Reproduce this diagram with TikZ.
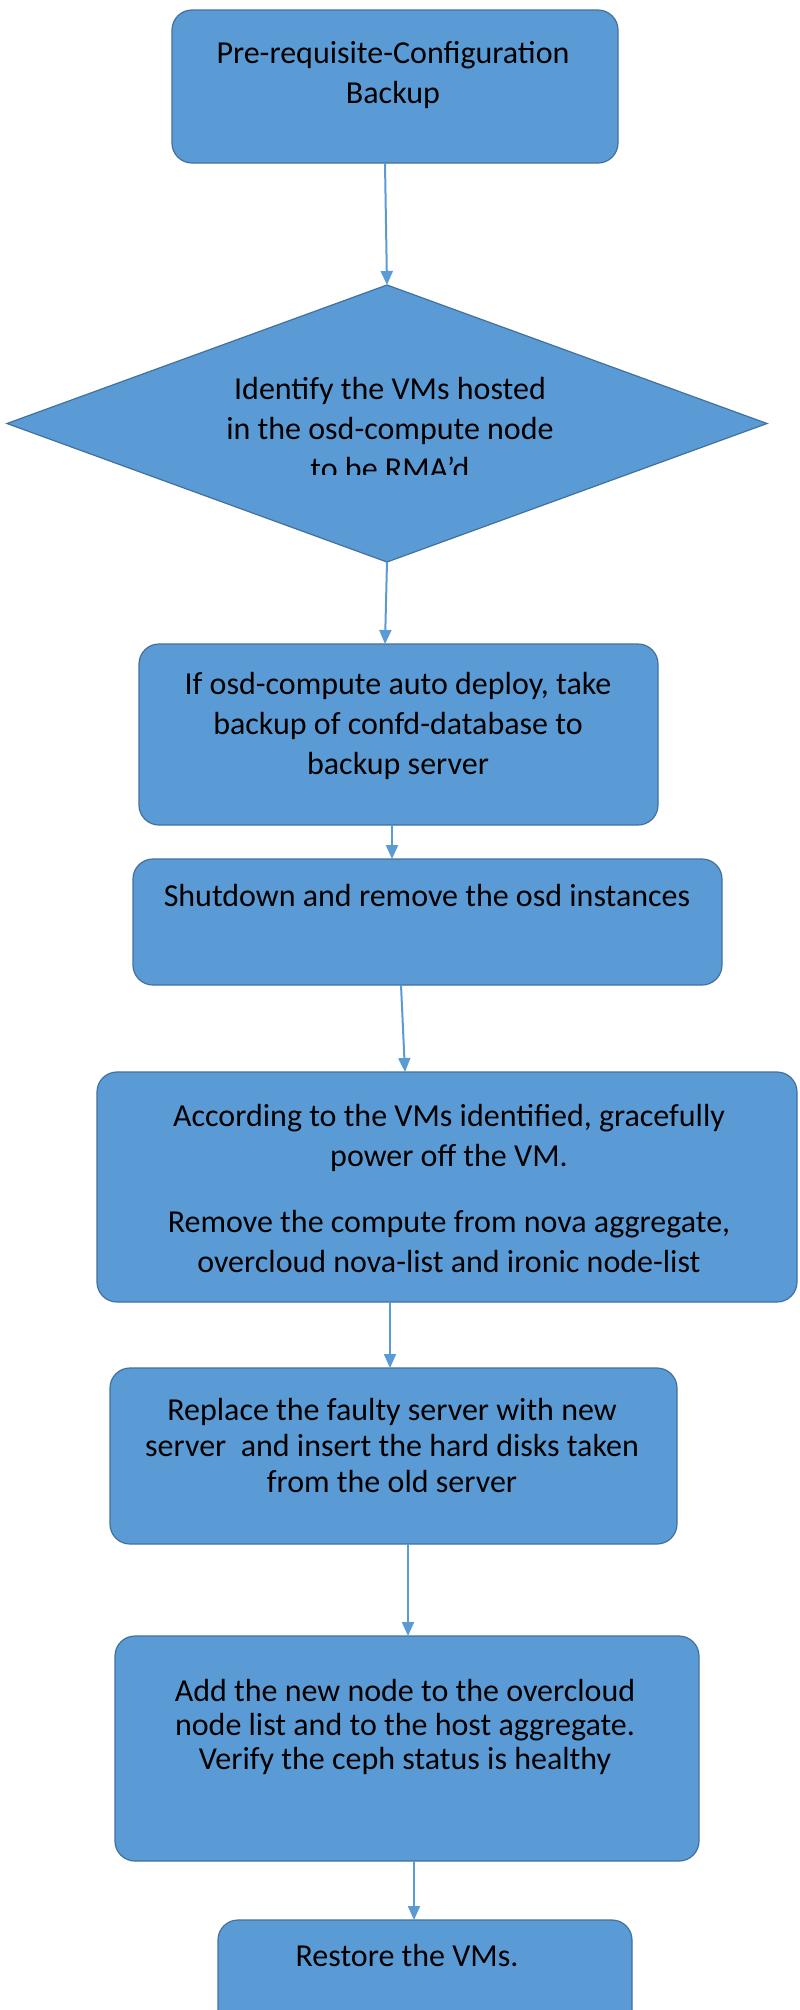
\documentclass[tikz,border=0pt]{standalone}
\usepackage{fontspec}
\setmainfont{Carlito}
\usetikzlibrary{shapes.geometric,arrows.meta}

\definecolor{stepblue}{HTML}{5B9BD5}
\definecolor{stepedge}{HTML}{41719C}

\begin{document}
\begin{tikzpicture}[x=0.5pt,y=-0.5pt,
    stepbox/.style={draw=stepedge,line width=0.6pt,fill=stepblue,rounded corners=10pt,inner sep=0pt,outer sep=0pt},
    decision/.style={draw=stepedge,line width=0.6pt,fill=stepblue,diamond,inner sep=0pt,outer sep=0pt},
    steptext/.style={align=center,text=black,inner sep=0pt,font=\fontsize{16}{20}\selectfont},
    flow/.style={draw=stepblue,line width=1pt,-{Triangle[width=6pt,length=7pt]}}]

    % Page frame
    \fill[white] (0,0) rectangle (799,2010);
    \clip (0,0) rectangle (799,2010);

    % Step 1: configuration backup
    \node[stepbox,minimum width=223pt,minimum height=76.5pt] (b1) at (395,86.5) {};
    \node[steptext] (t1) at (393,75) {Pre-requisite-Configuration\\Backup};

    % Step 2: decision diamond
    \node[decision,minimum width=380pt,minimum height=138.5pt] (dia) at (387,423.5) {};
    \begin{scope}
        \clip (0,0) rectangle (799,474);   % last line is cut in the box
        \node[steptext] (t2) at (390,428) {Identify the VMs hosted\\in the osd-compute node\\to be RMA’d};
    \end{scope}

    % Step 3: confd backup
    \node[stepbox,minimum width=259.5pt,minimum height=90.5pt] (b3) at (398.5,734.5) {};
    \node[steptext] (t3) at (398,726) {If osd-compute auto deploy, take\\backup of confd-database to\\backup server};

    % Step 4: osd instances
    \node[stepbox,minimum width=294.5pt,minimum height=63pt] (b4) at (427.5,922) {};
    \node[steptext] (t4) at (427,895) {Shutdown and remove the osd instances};

    % Step 5: power off and remove compute
    \node[stepbox,minimum width=350pt,minimum height=115pt] (b5) at (447,1187) {};
    \node[steptext] (t5) at (449,1188) {According to the VMs identified, gracefully\\power off the VM.\\[13pt]Remove the compute from nova aggregate,\\overcloud nova-list and ironic node-list};

    % Step 6: replace server
    \node[stepbox,minimum width=283.5pt,minimum height=88pt] (b6) at (393.5,1456) {};
    \node[steptext,font=\fontsize{16}{18}\selectfont] (t6) at (392,1445) {Replace the faulty server with new\\server\ \ and insert the hard disks taken\\from the old server};

    % Step 7: add new node
    \node[stepbox,minimum width=292pt,minimum height=112.5pt] (b7) at (407,1748.5) {};
    \node[steptext,font=\fontsize{16}{17}\selectfont] (t7) at (405,1727) {Add the new node to the overcloud\\node list and to the host aggregate.\\Verify the ceph status is healthy};

    % Step 8: restore
    \node[stepbox,minimum width=207pt,minimum height=55pt] (b8) at (425,1975) {};
    \node[steptext] (t8) at (407,1955) {Restore the VMs.};

    % Connectors
    \draw[flow] ([xshift=-5pt]b1.south) -- (dia.north);
    \draw[flow] (dia.south) -- ([xshift=-6.75pt]b3.north);
    \draw[flow] ([xshift=-3.25pt]b3.south) -- ([xshift=-17.75pt]b4.north);
    \draw[flow] ([xshift=-13.25pt]b4.south) -- ([xshift=-21pt]b5.north);
    \draw[flow] ([xshift=-28.5pt]b5.south) -- ([xshift=-1.75pt]b6.north);
    \draw[flow] ([xshift=7.25pt]b6.south) -- ([xshift=0.5pt]b7.north);
    \draw[flow] ([xshift=3.5pt]b7.south) -- ([xshift=-5.5pt]b8.north);

\end{tikzpicture}
\end{document}
